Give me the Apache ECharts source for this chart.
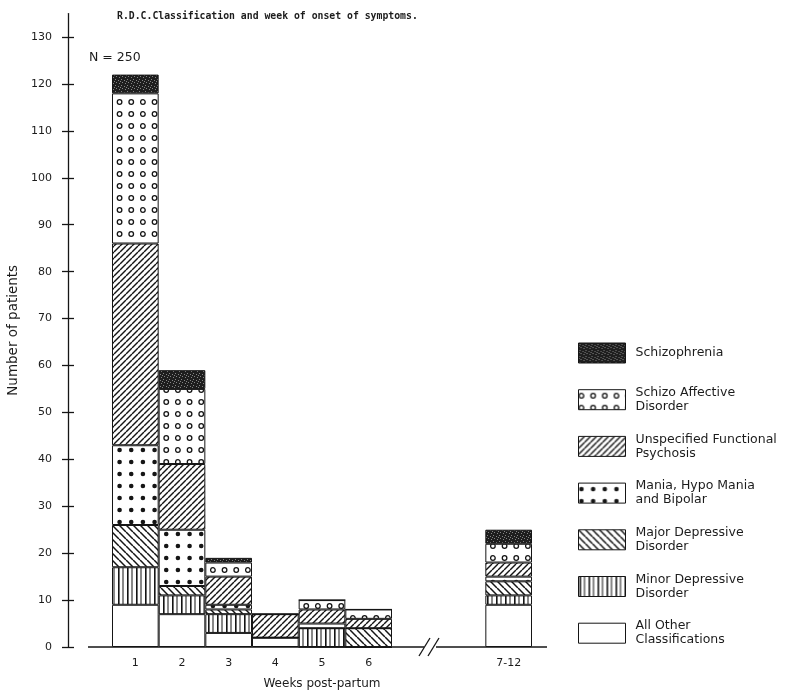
<!DOCTYPE html>
<html>
<head>
<meta charset="utf-8">
<script src="https://cdn.jsdelivr.net/npm/echarts@6/dist/echarts.min.js"></script>
<style>
  html, body { margin: 0; padding: 0; background: #fff; }
  #chart { width: 811px; height: 692px; }
</style>
</head>
<body>
<div id="chart"></div>
<script>
// Weeks post-partum (two blank slots stand in for the broken axis before 7-12)
const weeks = ['1', '2', '3', '4', '5', '6', '', '', '7-12'];

// Patients per R.D.C. class, stacked bottom to top
const allOther      = [9, 7, 3, 2, 0, 0, '-', '-', 9];
const minorDep      = [8, 4, 4, 0, 4, 0, '-', '-', 2];
const majorDep      = [9, 2, 1, 0, 0, 4, '-', '-', 3];
const mania         = [17, 12, 1, 0, 1, 0, '-', '-', 1];
const unspecified   = [43, 14, 6, 5, 3, 2, '-', '-', 3];
const schizoAff     = [32, 16, 3, 0, 2, 2, '-', '-', 4];
const schizophrenia = [4, 4, 1, 0, 0, 0, '-', '-', 3];

const yTicks = [0, 10, 20, 30, 40, 50, 60, 70, 80, 90, 100, 110, 120, 130];

const names = {
  schizophrenia: 'Schizophrenia',
  schizoAff: 'Schizo Affective Disorder',
  unspecified: 'Unspecified Functional Psychosis',
  mania: 'Mania, Hypo Mania and Bipolar',
  majorDep: 'Major Depressive Disorder',
  minorDep: 'Minor Depressive Disorder',
  allOther: 'All Other Classifications'
};
const legendText = {
  'Schizophrenia': '{one|Schizophrenia}',
  'Schizo Affective Disorder': 'Schizo Affective\nDisorder',
  'Unspecified Functional Psychosis': 'Unspecified Functional\nPsychosis',
  'Mania, Hypo Mania and Bipolar': 'Mania, Hypo Mania\nand Bipolar',
  'Major Depressive Disorder': 'Major Depressive\nDisorder',
  'Minor Depressive Disorder': 'Minor Depressive\nDisorder',
  'All Other Classifications': 'All Other\nClassifications'
};

// ---- fill patterns -------------------------------------------------------
function tile(w, h, paint) {
  const c = document.createElement('canvas');
  c.width = w; c.height = h;
  const g = c.getContext('2d');
  g.fillStyle = '#fff';
  g.fillRect(0, 0, w, h);
  paint(g, w, h);
  return { image: c, repeat: 'repeat' };
}
const INK = '#151515';

const hatchFwd = tile(6, 6, (g, w, h) => {
  g.strokeStyle = INK; g.lineWidth = 1.4;
  for (let k = -1; k <= 1; k++) {
    g.beginPath(); g.moveTo(k * w, h); g.lineTo(k * w + w, 0); g.stroke();
  }
});
const hatchBack = tile(7, 7, (g, w, h) => {
  g.strokeStyle = INK; g.lineWidth = 1.5;
  for (let k = -1; k <= 1; k++) {
    g.beginPath(); g.moveTo(k * w, 0); g.lineTo(k * w + w, h); g.stroke();
  }
});
const vertical = tile(9, 4, (g, w, h) => {
  g.fillStyle = INK;
  g.fillRect(1, 0, 1.6, h);
  g.fillRect(5.5, 0, 1, h);
});
// three cells per tile so four marks fit each bar width
const rings = tile(35, 12, (g) => {
  g.strokeStyle = INK; g.lineWidth = 1.3;
  for (let i = 0; i < 3; i++) {
    g.beginPath(); g.arc(2.9 + i * 11.67, 6, 2.3, 0, Math.PI * 2); g.stroke();
  }
});
const dots = tile(35, 12, (g) => {
  g.fillStyle = INK;
  for (let i = 0; i < 3; i++) {
    g.beginPath(); g.arc(2.9 + i * 11.67, 6, 2.3, 0, Math.PI * 2); g.fill();
  }
});
const stipple = tile(6, 6, (g) => {
  g.fillStyle = '#1e1e1e';
  g.fillRect(0, 0, 6, 6);
  g.fillStyle = '#858585';
  [[1, 1], [4, 2], [2, 4], [5, 5], [0, 3]].forEach(p => g.fillRect(p[0], p[1], 1, 1));
});
const blank = '#ffffff';

// ---- series --------------------------------------------------------------
const layers = [
  [names.allOther, allOther, blank],
  [names.minorDep, minorDep, vertical],
  [names.majorDep, majorDep, hatchBack],
  [names.mania, mania, dots],
  [names.unspecified, unspecified, hatchFwd],
  [names.schizoAff, schizoAff, rings],
  [names.schizophrenia, schizophrenia, stipple]
];

const series = layers.map(([name, values, fill]) => ({
  name: name,
  type: 'bar',
  stack: 'rdc',
  data: values,
  barWidth: '100%',
  barGap: '0%',
  itemStyle: { color: fill, borderColor: INK, borderWidth: 1 },
  emphasis: { disabled: true }
}));

const TEXT = '#1c1c1c';
const SANS = 'DejaVu Sans';

const chart = echarts.init(document.getElementById('chart'), null, { renderer: 'canvas' });
chart.setOption({
  animation: false,
  backgroundColor: '#fff',
  grid: { left: 112, right: 279, top: 13.6, bottom: 45, containLabel: false, outerBoundsMode: 'none' },
  title: [
    {
      text: 'R.D.C.Classification and week of onset of symptoms.',
      left: 112, top: 6,
      textStyle: { fontFamily: 'DejaVu Sans Mono', fontWeight: 'bold', fontSize: 9.8, color: TEXT }
    },
    {
      text: 'N = 250',
      left: 84, top: 46,
      textStyle: { fontFamily: SANS, fontWeight: 'normal', fontSize: 12.5, color: TEXT }
    }
  ],
  xAxis: {
    type: 'category',
    data: weeks,
    axisLine: { show: false },
    axisTick: { show: false },
    axisLabel: { margin: 11, fontFamily: SANS, fontSize: 11, color: TEXT },
    name: 'Weeks post-partum',
    nameLocation: 'middle',
    nameGap: 31,
    nameTextStyle: { fontFamily: SANS, fontSize: 12, color: TEXT }
  },
  yAxis: [
    {
      type: 'value',
      position: 'left',
      min: 0, max: 135,
      offset: 44,
      splitLine: { show: false },
      axisLine: { show: true, lineStyle: { color: INK, width: 1.3 } },
      axisTick: { show: true, length: 6, customValues: yTicks, lineStyle: { color: INK, width: 1.3 } },
      axisLabel: { margin: 16, customValues: yTicks, fontFamily: SANS, fontSize: 11, color: TEXT },
      name: 'Number of patients',
      nameLocation: 'middle',
      nameRotate: 90,
      nameGap: 48,
      nameTextStyle: { fontFamily: SANS, fontSize: 13.5, color: TEXT }
    },
    {
      type: 'value',
      position: 'left',
      min: 0, max: 135,
      offset: 44,
      splitLine: { show: false },
      axisLine: { show: false },
      axisTick: { show: true, inside: true, length: 6, customValues: yTicks, lineStyle: { color: INK, width: 1.3 } },
      axisLabel: { show: false }
    }
  ],
  legend: {
    orient: 'vertical',
    left: 578, top: 339,
    padding: 0,
    itemWidth: 47, itemHeight: 20,
    itemGap: 18.7,
    selectedMode: false,
    icon: 'rect',
    data: layers.map(l => l[0]).reverse(),
    itemStyle: { borderColor: INK, borderWidth: 1 },
    formatter: n => legendText[n],
    textStyle: {
      fontFamily: SANS, fontSize: 12.5, color: TEXT, lineHeight: 14,
      padding: [0, 0, 0, 5],
      rich: { one: { fontFamily: SANS, fontSize: 12.5, color: TEXT, lineHeight: 28 } }
    }
  },
  series: series
});

// Baseline drawn by hand so it can carry the axis break before 7-12
const yBase = chart.convertToPixel({ yAxisIndex: 0 }, 0);
const line = (x1, y1, x2, y2) => ({
  type: 'line', silent: true,
  shape: { x1, y1, x2, y2 },
  style: { stroke: INK, lineWidth: 1.3 }
});
chart.setOption({
  graphic: [
    line(88, yBase, 424, yBase),
    line(419, yBase + 9, 430, yBase - 9),
    line(428, yBase + 9, 439, yBase - 9),
    line(436, yBase, 547, yBase)
  ]
});
</script>
</body>
</html>
